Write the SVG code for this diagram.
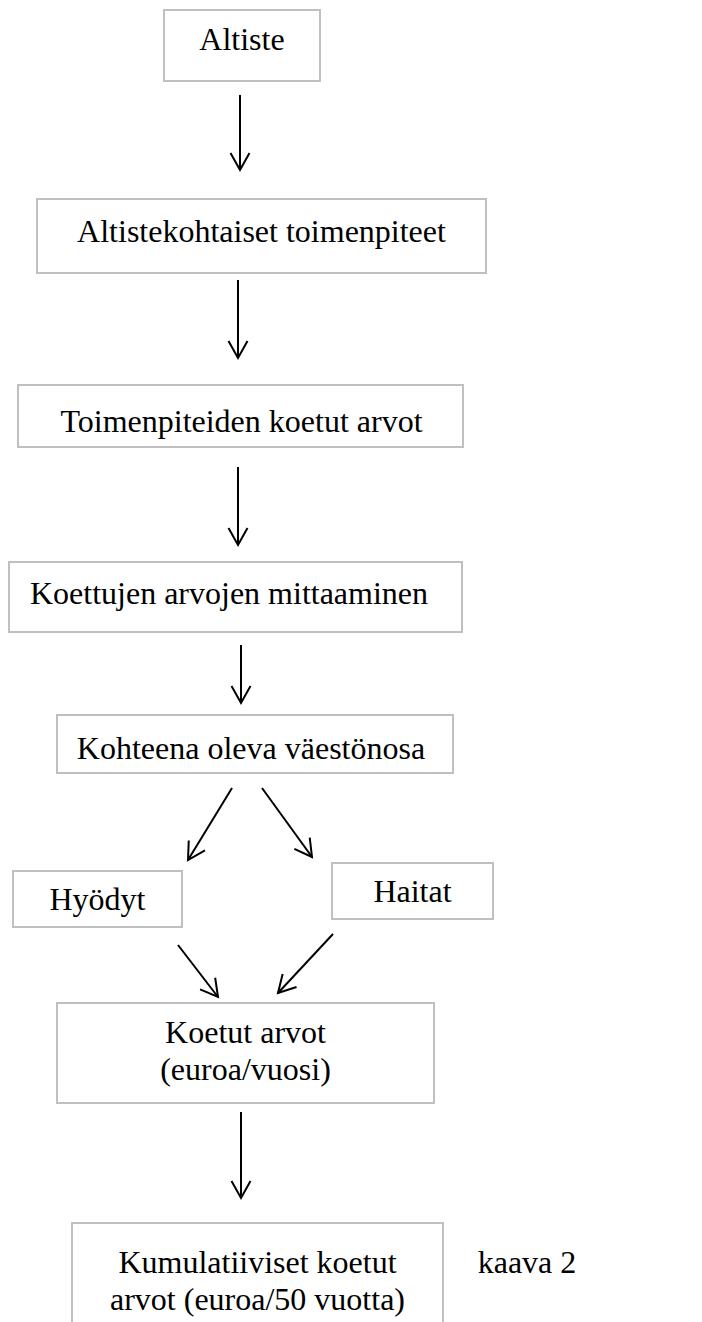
<svg xmlns="http://www.w3.org/2000/svg" width="702" height="1322" viewBox="0 0 702 1322">
<defs>
<style>
.box{fill:#ffffff;stroke:#c0c0c0;stroke-width:2}
.t{font-family:"Liberation Serif","Times New Roman",serif;font-size:32px;fill:#000;text-anchor:middle}
.c{stroke:#000;stroke-width:2;fill:none;marker-end:url(#ah)}
</style>
<marker id="ah" markerUnits="userSpaceOnUse" viewBox="-20 -12 24 24" markerWidth="24" markerHeight="24" refX="0" refY="0" orient="auto">
<path d="M-17,-9.5 L0,0 L-17,9.5" fill="none" stroke="#000" stroke-width="2"/>
</marker>
</defs>
<rect width="702" height="1322" fill="#ffffff"/>
<g id="n1"><rect class="box" x="164" y="10" width="156" height="71"/><text class="t" x="242" y="50">Altiste</text></g>
<g id="n2"><rect class="box" x="37" y="199" width="449" height="74"/><text class="t" x="261.5" y="242">Altistekohtaiset toimenpiteet</text></g>
<g id="n3"><rect class="box" x="18" y="385" width="445" height="62"/><text class="t" x="241.5" y="432">Toimenpiteiden koetut arvot</text></g>
<g id="n4"><rect class="box" x="9" y="562" width="453" height="70"/><text class="t" x="229" y="604">Koettujen arvojen mittaaminen</text></g>
<g id="n5"><rect class="box" x="57" y="715" width="396" height="58"/><text class="t" x="251" y="759">Kohteena oleva väestönosa</text></g>
<g id="n6"><rect class="box" x="13" y="871" width="169" height="56"/><text class="t" x="97.5" y="910">Hyödyt</text></g>
<g id="n7"><rect class="box" x="332" y="863" width="161" height="56"/><text class="t" x="412.5" y="902">Haitat</text></g>
<g id="n8"><rect class="box" x="57" y="1003" width="377" height="100"/><text class="t" x="245.5" y="1043">Koetut arvot</text><text class="t" x="245.5" y="1080">(euroa/vuosi)</text></g>
<g id="n9"><rect class="box" x="72" y="1223" width="371" height="120"/><text class="t" x="257.5" y="1273">Kumulatiiviset koetut</text><text class="t" x="257.5" y="1310">arvot (euroa/50 vuotta)</text></g>
<g id="label"><text class="t" x="527" y="1273">kaava 2</text></g>
<g id="connectors">
<line class="c" x1="240" y1="95" x2="240" y2="170"/>
<line class="c" x1="238" y1="280" x2="238" y2="358"/>
<line class="c" x1="238" y1="467" x2="238" y2="545"/>
<line class="c" x1="241" y1="645" x2="241" y2="703"/>
<line class="c" x1="232" y1="788" x2="188" y2="860"/>
<line class="c" x1="262" y1="788" x2="312" y2="857"/>
<line class="c" x1="178" y1="945" x2="218" y2="997"/>
<line class="c" x1="333" y1="934" x2="278" y2="993"/>
<line class="c" x1="241" y1="1112" x2="241" y2="1198"/>
</g>
</svg>
